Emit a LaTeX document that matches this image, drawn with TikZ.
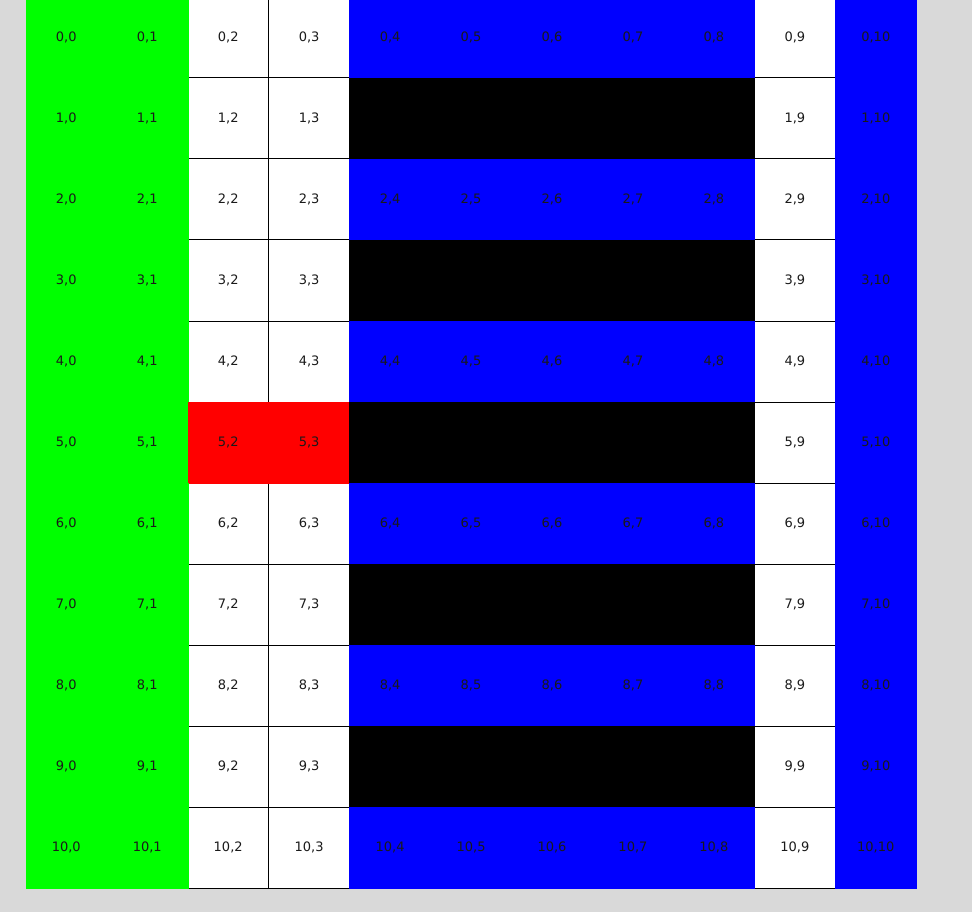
\documentclass[tikz,border=0pt]{standalone}
\usepackage{fontspec}
\setmainfont{DejaVu Sans}
\definecolor{bggrey}{HTML}{D9D9D9}
\definecolor{txtcol}{HTML}{1A1A1A}
\def\whitestr{white}
\def\blackstr{black}
\newcommand\setcellcol[2]{%
  \def\cellcol{white}%
  \ifnum#2<2 \def\cellcol{green}\fi
  \ifnum#2=10 \def\cellcol{blue}\fi
  \ifnum#2>3 \ifnum#2<9 \ifodd#1 \def\cellcol{black}\else\def\cellcol{blue}\fi\fi\fi
  \ifnum#1=5 \ifnum#2>1 \ifnum#2<4 \def\cellcol{red}\fi\fi\fi
}
\tikzset{
  gridcell/.style={rectangle, minimum width=81pt, minimum height=81pt, inner sep=0pt, outer sep=0pt,
    line width=1pt, text=txtcol, font=\fontsize{13}{15}\selectfont},
  colcell/.style={gridcell, line width=0.3pt}
}
\begin{document}
\begin{tikzpicture}[x=1pt,y=1pt]
\fill[bggrey] (0,0) rectangle (972,-912);
\useasboundingbox (0,0) rectangle (972,-912);
% pass 1: white cells with black borders
\foreach \i in {0,...,10}{
  \foreach \j in {0,...,10}{
    \setcellcol{\i}{\j}
    \ifx\cellcol\whitestr
      \node[gridcell, draw=black, fill=white] (c-\i-\j) at ({25.8+80.95*\j+40.5},{-(-3+81*\i+40.5)}) {\i,\j};
    \fi
  }
}
% pass 2: coloured cells on top
\foreach \i in {0,...,10}{
  \foreach \j in {0,...,10}{
    \setcellcol{\i}{\j}
    \ifx\cellcol\whitestr\else
      \ifx\cellcol\blackstr
        \node[colcell, draw=\cellcol, fill=\cellcol] (c-\i-\j) at ({25.8+80.95*\j+40.5},{-(-3+81*\i+40.5)}) {};
      \else
        \node[colcell, draw=\cellcol, fill=\cellcol] (c-\i-\j) at ({25.8+80.95*\j+40.5},{-(-3+81*\i+40.5)}) {\i,\j};
      \fi
    \fi
  }
}
\end{tikzpicture}
\end{document}
